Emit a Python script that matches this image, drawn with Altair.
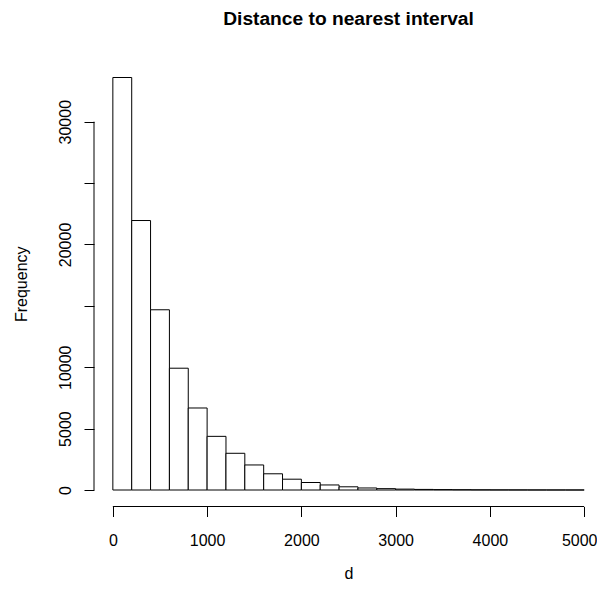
import altair as alt
import pandas as pd

# Histogram bins (width 200) and counts
bin_start = [0, 200, 400, 600, 800, 1000, 1200, 1400, 1600, 1800,
             2000, 2200, 2400, 2600, 2800, 3000, 3200, 3400, 3600, 3800,
             4000, 4200, 4400, 4600, 4800]
bin_width = 200
counts = [33600, 21950, 14680, 9920, 6680, 4370, 2990, 2040, 1320, 880,
          610, 410, 260, 165, 110, 72, 48, 32, 22, 15,
          10, 7, 5, 3, 2]

x_ticks = [0, 1000, 2000, 3000, 4000, 5000]
y_ticks = [0, 5000, 10000, 15000, 20000, 25000, 30000]
y_hidden = [15000, 25000]

# R-style extended domains (x cut a little on the right to fit the page)
x_domain = [-200, 5136]
ymax = max(counts)
y_domain = [-0.04 * ymax, 1.04 * ymax]

df = pd.DataFrame({
    "start": bin_start,
    "end": [s + bin_width for s in bin_start],
    "count": counts,
})

W, H = 503, 445.5
FONT = "Liberation Sans"

xs = alt.Scale(domain=x_domain, nice=False, zero=False)
ys = alt.Scale(domain=y_domain, nice=False, zero=False)

hidden_expr = " || ".join(f"datum.value == {v}" for v in y_hidden)

bars = alt.Chart(df).mark_rect(fill="white", stroke="black", strokeWidth=1).encode(
    x=alt.X("start:Q", scale=xs,
            axis=alt.Axis(values=x_ticks, format="d", title="d", domain=False, grid=False,
                          tickSize=10, tickColor="black", tickWidth=1,
                          labelFontSize=16, labelFont=FONT, labelColor="black",
                          labelPadding=15.5, labelOverlap=False, labelFlush=False,
                          labelBaseline="top",
                          labelOffset={"condition": {"test": f"datum.value == {x_ticks[-1]}", "value": -5},
                                       "value": 0},
                          titleFontSize=16, titleFont=FONT, titleColor="black",
                          titleFontWeight="normal", titleBaseline="alphabetic",
                          titleX=254.5, titleY=72)),
    x2="end:Q",
    y=alt.Y("count:Q", scale=ys,
            axis=alt.Axis(values=y_ticks, format="d", title="Frequency", domain=False, grid=False,
                          labelExpr=f"({hidden_expr}) ? '' : datum.label",
                          tickSize=10, tickColor="black", tickWidth=1,
                          labelFontSize=16, labelFont=FONT, labelColor="black",
                          labelAngle=-90, labelAlign="center", labelBaseline="bottom",
                          labelPadding=11, labelOverlap=False, labelFlush=False,
                          titleFontSize=16, titleFont=FONT, titleColor="black",
                          titleFontWeight="normal", titleAngle=-90,
                          titleBaseline="alphabetic", titleAlign="center",
                          titleX=-68, titleY=H / 2)),
    y2=alt.datum(0),
)

xaxis_line = alt.Chart(pd.DataFrame({"a": [x_ticks[0]], "b": [x_ticks[-1]]})).mark_rule(
    color="black", strokeWidth=1).encode(
    x=alt.X("a:Q", scale=xs), x2="b:Q", y=alt.YDatum(y_domain[0]))

yaxis_line = alt.Chart(pd.DataFrame({"a": [y_ticks[0]], "b": [y_ticks[-1]]})).mark_rule(
    color="black", strokeWidth=1).encode(
    y=alt.Y("a:Q", scale=ys), y2="b:Q", x=alt.XDatum(x_domain[0]))

chart = alt.layer(bars, xaxis_line, yaxis_line).properties(
    width=W, height=H,
    title=alt.Title("Distance to nearest interval", fontSize=19.2, font=FONT,
                    fontWeight="bold", color="black", anchor="middle", dx=3,
                    baseline="alphabetic", offset=17),
    autosize=alt.AutoSizeParams(type="none"),
    padding={"left": 86, "top": 53, "right": 0, "bottom": 75.5},
).configure(background="white").configure_view(stroke=None)

chart.save("out.html", embed_options={"renderer": "svg", "actions": False})
